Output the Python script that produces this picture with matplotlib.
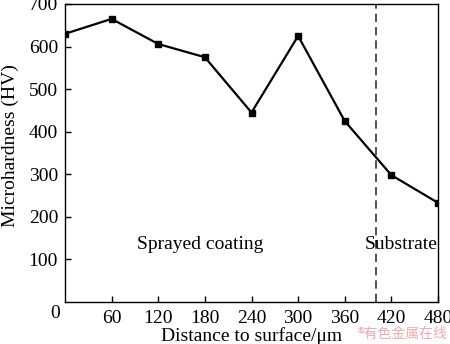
import matplotlib
matplotlib.use("Agg")
import matplotlib.pyplot as plt

distance = [0, 60, 120, 180, 240, 300, 360, 420, 480]
hardness = [630, 665, 606, 575, 445, 625, 425, 298, 233]
boundary = 400
xticks = [60, 120, 180, 240, 300, 360, 420, 480]
yticks = [100, 200, 300, 400, 500, 600, 700]

plt.rcParams['font.family'] = ['Liberation Serif', 'DejaVu Serif']
fig = plt.figure(figsize=(4.5, 3.44), dpi=100)
ax = fig.add_axes([65/450, 1-302/344, (438-65)/450, (302-4)/344])

ax.plot(distance, hardness, color='black', lw=1.6, marker='s', ms=5, mfc='black', mec='black')
ax.axvline(boundary, color='#333333', lw=1.2, ls=(0, (5, 3)))

ax.set_xlim(0, 480)
ax.set_ylim(0, 700)
ax.set_xticks(xticks)
ax.set_yticks(yticks)
ax.tick_params(direction='in', length=4, width=1, labelsize=14, pad=5)
ax.tick_params(axis='x', pad=6)
for s in ax.spines.values():
    s.set_linewidth(1)

ax.text(-6, -8, '0', fontsize=14, ha='right', va='top', transform=ax.transData, clip_on=False)
ax.text(93, 134, 'Sprayed coating', fontsize=14, ha='left', va='center')
ax.text(386, 134, 'Substrate', fontsize=14, ha='left', va='center')

ax.set_xlabel('Distance to surface/μm', fontsize=14, labelpad=0)
fig.text(10/450, 1-146/344, 'Microhardness (HV)', fontsize=14, rotation=90, ha='center', va='center')

fig.text(447/450, 3/344, '®有色金属在线', fontsize=10, color='#f2a8b0', ha='right', va='bottom',
         family=['Noto Sans CJK SC', 'DejaVu Sans'])

fig.savefig('out.png', dpi=100)
